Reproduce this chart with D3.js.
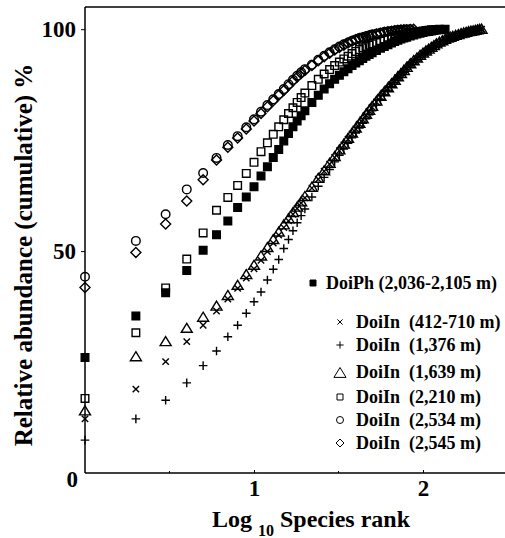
<!DOCTYPE html>
<html lang="en">
<head>
<meta charset="utf-8">
<title>Cumulative abundance vs log species rank</title>
<script src="https://cdn.jsdelivr.net/npm/d3@7"></script>
<style>
  body { margin: 0; background: #fff; }
</style>
</head>
<body>
<script>
// species ranks the values below belong to (shared by every series)
var ranks = [1,2,3,4,5,6,7,8,9,10,11,12,13,14,15,16,17,18,19,20,
  22,24,26,28,30,32,34,36,38,40,
  42,44,46,48,50,
  53,56,59,62,65,68,71,74,77,80,
  84,88,92,96,100,104,108,112,116,120,
  125,130,135,140,145,150,
  156,162,168,174,180,186,192,198,204,210,216,222];

// cumulative relative abundance (%) at each rank
var doiPh = [26.0,35.4,40.6,45.6,50.2,53.7,56.8,59.8,62.2,64.5,
  66.9,69.0,71.1,72.9,74.8,76.5,78.0,79.3,80.5,81.6,
  83.5,85.1,86.5,87.7,88.7,89.6,90.4,91.1,91.8,92.4,
  92.9,93.4,93.9,94.3,94.7,
  95.2,95.7,96.1,96.5,96.9,97.2,97.5,97.8,98.0,98.2,
  98.45,98.7,98.9,99.1,99.25,99.4,99.5,99.6,99.7,99.8,
  99.9,99.95,100];
var in412 = [12.2,18.9,25.1,29.6,33.3,36.5,39.2,41.6,43.9,46.0,
  47.9,49.9,51.8,53.6,55.3,56.8,58.3,59.6,60.8,62.0,
  64.2,66.2,68.0,69.6,71.1,72.6,73.9,75.2,76.4,77.5,
  78.6,79.6,80.6,81.5,82.4,
  83.6,84.7,85.7,86.6,87.5,88.3,89.1,89.8,90.5,91.2,
  92.0,92.7,93.3,93.9,94.4,94.9,95.3,95.7,96.1,96.5,
  96.9,97.2,97.5,97.8,98.0,98.2,
  98.4,98.6,98.8,99.0,99.15,99.3,99.45,99.55,99.7,99.8,99.9,100];
var in1376 = [7.4,12.2,16.4,20.3,24.2,27.5,30.7,33.3,36.0,38.6,
  40.8,43.5,45.9,48.1,50.6,52.6,54.6,56.4,58.0,59.5,
  62.2,64.6,66.6,68.4,70.1,71.6,73.0,74.3,75.5,76.6,
  77.7,78.8,79.8,80.7,81.6,
  82.9,84.1,85.2,86.2,87.1,88.0,88.8,89.6,90.3,91.0,
  91.8,92.5,93.1,93.7,94.3,94.8,95.2,95.6,96.0,96.4,
  96.8,97.1,97.4,97.7,97.9,98.1,
  98.3,98.5,98.7,98.9,99.1,99.25,99.4,99.55,99.7,99.85,100];
var in1639 = [14.0,26.2,29.6,32.6,35.1,37.6,40.0,42.3,44.7,46.8,
  48.9,50.8,52.6,54.3,55.9,57.3,58.7,59.9,61.1,62.3,
  64.4,66.4,68.1,69.8,71.3,72.8,74.1,75.4,76.6,77.7,
  78.8,79.8,80.8,81.7,82.6,
  83.8,84.9,85.9,86.8,87.7,88.5,89.3,90.0,90.7,91.4,
  92.2,92.9,93.5,94.1,94.6,95.1,95.5,95.9,96.3,96.7,
  97.1,97.4,97.7,98.0,98.2,98.4,
  98.6,98.8,99.0,99.15,99.3,99.45,99.55,99.65,99.75,99.85,99.95,100];
var in2210 = [16.8,31.6,41.7,48.2,54.1,59.2,62.1,64.8,67.5,70.0,
  72.4,74.4,76.3,78.0,79.6,81.0,82.3,83.5,84.6,85.6,
  87.3,88.7,89.9,90.9,91.8,92.6,93.3,93.9,94.5,95.0,
  95.4,95.8,96.1,96.4,96.7,
  97.0,97.3,97.6,97.9,98.1,98.3,98.5,98.7,98.85,99.0,
  99.15,99.3,99.4,99.5,99.6,99.7,99.78,99.85,99.9,99.95,
  100];
var in2534 = [44.2,52.3,58.3,63.9,67.6,71.0,73.9,75.9,77.9,79.7,
  81.4,82.9,84.2,85.4,86.5,87.6,88.6,89.5,90.3,91.0,
  92.0,93.1,94.0,94.8,95.5,96.1,96.6,97.0,97.4,97.7,
  98.0,98.2,98.4,98.6,98.8,
  99.0,99.2,99.35,99.5,99.6,99.7,99.8,99.85,99.9,99.95,
  100];
var in2545 = [41.8,49.7,56.1,61.3,66.1,70.5,73.4,75.5,77.5,79.3,
  81.0,82.5,83.9,85.1,86.2,87.3,88.3,89.2,90.0,90.7,
  91.8,92.9,93.8,94.6,95.3,95.9,96.4,96.9,97.3,97.6,
  97.9,98.1,98.3,98.5,98.7,
  98.9,99.1,99.3,99.45,99.55,99.65,99.75,99.8,99.85,99.9,
  99.95,100];

var labels = ["DoiPh (2,036-2,105 m)", "DoiIn  (412-710 m)", "DoiIn  (1,376 m)",
  "DoiIn  (1,639 m)", "DoiIn  (2,210 m)", "DoiIn  (2,534 m)", "DoiIn  (2,545 m)"];
var shapes = ["square", "times", "plus", "triangle", "square", "circle", "diamond"];
var filled = [true, false, false, false, false, false, false];
var values = [doiPh, in412, in1376, in1639, in2210, in2534, in2545];

var yTicks = [50, 100];
var xTicks = [1, 2];
var xMinor = [0.5, 1.5];

/* set up */
var w = 505, h = 538;
var x = d3.scaleLinear().domain([0, 2.485]).range([85, 505]);
var y = d3.scaleLinear().domain([0, 105]).range([473, 7]);

var svg = d3.select("body").append("svg")
  .attr("width", w)
  .attr("height", h);

function markerPath(type, s) {
  switch (type) {
    case "square": return "M" + (-s) + "," + (-s) + "H" + s + "V" + s + "H" + (-s) + "Z";
    case "circle": return "M" + s + ",0A" + s + "," + s + " 0 1,1 " + (-s) + ",0A" + s + "," + s + " 0 1,1 " + s + ",0Z";
    case "diamond": return "M0," + (-s) + "L" + s + ",0L0," + s + "L" + (-s) + ",0Z";
    case "triangle": return "M0," + (-s) + "L" + (s * 1.1) + "," + (s * 0.8) + "L" + (-s * 1.1) + "," + (s * 0.8) + "Z";
    case "times": return "M" + (-s) + "," + (-s) + "L" + s + "," + s + "M" + (-s) + "," + s + "L" + s + "," + (-s);
    case "plus": return "M" + (-s) + ",0H" + s + "M0," + (-s) + "V" + s;
  }
}
var plotSize = { square: 3.8, circle: 4.3, diamond: 5, triangle: 5, times: 3.2, plus: 4.3 };
var legendSize = { square: 3, circle: 3.5, diamond: 4, triangle: 5.5, times: 2.6, plus: 3.6 };

/* frame: top line */
svg.append("line")
  .attr("x1", x.range()[0]).attr("x2", w)
  .attr("y1", y.range()[1]).attr("y2", y.range()[1])
  .attr("stroke", "#000").attr("stroke-width", 1.5);

/* axes */
var yAxis = svg.append("g")
  .attr("transform", "translate(" + x.range()[0] + ",0)")
  .call(d3.axisLeft(y).tickValues(yTicks).tickSize(4).tickPadding(5).tickFormat(d3.format("d")));
yAxis.select(".domain").remove();
yAxis.attr("font-family", null).attr("font-size", null);
yAxis.selectAll("text").attr("font-size", 23);
svg.append("line")
  .attr("x1", x.range()[0]).attr("x2", x.range()[0])
  .attr("y1", y.range()[1]).attr("y2", y.range()[0])
  .attr("stroke", "#000").attr("stroke-width", 1.5);

var xAxis = svg.append("g")
  .attr("transform", "translate(0," + y.range()[0] + ")")
  .call(d3.axisBottom(x).tickValues(xTicks).tickSize(-3).tickPadding(0).tickFormat(d3.format("d")));
xAxis.select(".domain").remove();
xAxis.attr("font-family", null).attr("font-size", null);
xAxis.selectAll("text").attr("font-size", 23).attr("y", 7);
svg.append("line")
  .attr("x1", x.range()[0]).attr("x2", w)
  .attr("y1", y.range()[0]).attr("y2", y.range()[0])
  .attr("stroke", "#000").attr("stroke-width", 1.5);
svg.selectAll(".minor")
  .data(xMinor).enter().append("line")
  .attr("class", "minor")
  .attr("x1", function(d) { return x(d); }).attr("x2", function(d) { return x(d); })
  .attr("y1", y.range()[0] - 2).attr("y2", y.range()[0])
  .attr("stroke", "#000");

// origin label
svg.append("text")
  .attr("x", x.range()[0] - 7).attr("y", y(0) + 14)
  .attr("text-anchor", "end")
  .attr("font-size", 23)
  .text("0");

/* titles */
var xt = svg.append("text")
  .attr("x", 212).attr("y", 527)
  .attr("font-size", 24);
xt.append("tspan").text("Log ");
xt.append("tspan").attr("dy", 9).attr("font-size", 16).text("10");
xt.append("tspan").attr("dy", -9).text(" Species rank");

svg.append("text")
  .attr("transform", "translate(32,255) rotate(-90)")
  .attr("text-anchor", "middle")
  .attr("font-size", 25)
  .text("Relative abundance (cumulative) %");

/* points */
var order = [6, 5, 4, 0, 3, 1, 2];
order.forEach(function(si) {
  var pts = values[si].map(function(v, i) { return [ranks[i], v]; });
  svg.append("g").selectAll("path")
    .data(pts).enter().append("path")
    .attr("transform", function(d) {
      return "translate(" + x(Math.log10(d[0])) + "," + y(d[1]) + ")";
    })
    .attr("d", markerPath(shapes[si], plotSize[shapes[si]]))
    .attr("fill", filled[si] ? "#000" : "none")
    .attr("stroke", "#000")
    .attr("stroke-width", 1.4);
});

/* legend */
var legendRows = [283, 322, 345, 372, 397, 420, 443];
var legend = svg.append("g");
labels.forEach(function(lab, i) {
  var mx = i === 0 ? 313 : 340;
  legend.append("path")
    .attr("transform", "translate(" + mx + "," + (legendRows[i] + (shapes[i] === "triangle" ? 1 : 0)) + ")")
    .attr("d", markerPath(shapes[i], legendSize[shapes[i]]))
    .attr("fill", filled[i] ? "#000" : "none")
    .attr("stroke", "#000")
    .attr("stroke-width", 1);
  legend.append("text")
    .attr("x", i === 0 ? 326 : 356)
    .attr("y", legendRows[i])
    .attr("dy", "0.35em")
    .attr("font-size", 18)
    .attr("xml:space", "preserve")
    .style("white-space", "pre")
    .text(lab);
});

// every text: bold serif, black
svg.selectAll("text")
  .style("font-family", "'Liberation Serif'")
  .style("font-weight", "bold")
  .attr("fill", "#000");
</script>
</body>
</html>
